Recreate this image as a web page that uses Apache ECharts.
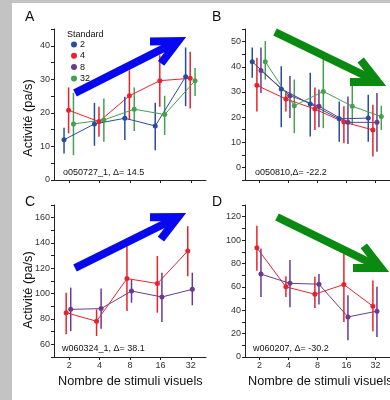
<!DOCTYPE html>
<html><head><meta charset="utf-8">
<script src="https://cdn.jsdelivr.net/npm/echarts@6/dist/echarts.min.js"></script>
<style>
html,body{margin:0;padding:0;background:#c3c3c3;width:390px;height:400px;overflow:hidden;}
#paper{position:absolute;left:12px;top:3px;width:378px;height:397px;background:#fff;}
#chart{position:absolute;left:0;top:0;width:390px;height:400px;}
</style></head><body><div id="paper"></div><div id="chart"></div>
<script>
// ---- data ----
const categories = ['2', '4', '8', '16', '32'];
const legendNames = ['2', '4', '8', '32'];

// Panel A
const aBlue = [12.0, 16.7, 18.4, 16.1, 30.8];
const aBlueLo = [7.9, 10.2, 11.9, 8.9, 22.0];
const aBlueHi = [15.6, 23.0, 24.8, 23.0, 39.5];
const aRed = [20.8, 17.4, 25.1, 29.6, 30.3];
const aRedLo = [13.9, 12.9, 17.9, 21.8, 21.3];
const aRedHi = [27.6, 21.8, 32.7, 37.2, 38.2];
const aGreen = [16.7, 17.9, 21.1, 19.5, 29.6];
const aGreenLo = [7.4, 11.4, 14.6, 13.4, 25.0];
const aGreenHi = [26.0, 24.3, 27.6, 25.1, 33.4];

// Panel B
const bBlue = [42.0, 31.2, 25.2, 19.3, 19.6];
const bBlueLo = [35.6, 16.0, 12.3, 10.2, 10.2];
const bBlueHi = [47.6, 40.2, 37.6, 26.2, 28.9];
const bRed = [32.6, 27.2, 23.2, 18.0, 14.9];
const bRedLo = [22.2, 22.2, 14.9, 9.6, 4.3];
const bRedHi = [43.6, 30.3, 31.8, 24.3, 24.9];
const bPurple = [38.5, 28.5, 24.3, 17.9, 17.9];
const bPurpleLo = [29.6, 19.6, 16.0, 9.3, 6.2];
const bPurpleHi = [47.6, 36.3, 31.0, 28.2, 29.6];
const bGreen = [42.0, 24.5, 30.2, 24.3, 20.2];
const bGreenLo = [34.9, 13.6, 15.6, 16.9, 14.9];
const bGreenHi = [50.2, 34.9, 43.6, 32.5, 24.5];

// Panel C
const cRed = [85.0, 78.2, 111.9, 108.0, 133.7];
const cRedLo = [67.9, 66.6, 86.3, 85.0, 113.7];
const cRedHi = [100.8, 87.6, 137.4, 129.7, 153.2];
const cPurple = [87.6, 88.2, 102.1, 97.4, 103.4];
const cPurpleLo = [70.5, 72.4, 92.9, 77.6, 90.8];
const cPurpleHi = [104.8, 104.0, 111.1, 116.6, 116.6];

// Panel D
const dRed = [93.4, 60.0, 53.7, 62.0, 43.4];
const dRedLo = [73.7, 51.4, 42.0, 30.0, 22.0];
const dRedHi = [112.3, 69.0, 68.6, 88.0, 65.4];
const dPurple = [70.9, 63.0, 62.3, 34.3, 39.2];
const dPurpleLo = [51.4, 42.6, 45.0, 14.3, 17.1];
const dPurpleHi = [92.9, 82.9, 71.0, 52.9, 60.0];

const annotations = ['o050727_1, \u0394= 14.5', 'o050810,\u0394= -22.2', 'w060324_1, \u0394= 38.1', 'w060207, \u0394= -30.2'];
const panelLetters = ['A', 'B', 'C', 'D'];
const yTitle = 'Activité (pa/s)';
const xTitle = 'Nombre de stimuli visuels';
const legendTitle = 'Standard';

// ---- styles ----
const FONT = 'Liberation Sans, Arial, sans-serif';
const COL = { blue: '#2a4c9c', red: '#e8222c', purple: '#6b3a8e', green: '#45a04f' };
const grids = [
  { left: 54, top: 29, width: 152, height: 151 },
  { left: 245, top: 29, width: 152, height: 151 },
  { left: 54, top: 205, width: 152, height: 152 },
  { left: 245, top: 205, width: 152, height: 152 }
];
const yCfg = [
  { min: 0, max: 45, interval: 5, step: 10 },
  { min: -5, max: 55, interval: 5, step: 10 },
  { min: 50, max: 170, interval: 10, step: 20 },
  { min: 0, max: 130, interval: 10, step: 20 }
];

const xAxes = grids.map((g, i) => ({
  type: 'value', gridIndex: i, min: -0.5, max: 4.5,
  axisLine: { show: true, onZero: false, lineStyle: { color: '#222', width: 1 } },
  axisTick: { show: true, customValues: [0, 1, 2, 3, 4], length: 3, lineStyle: { color: '#222' } },
  axisLabel: { show: i >= 2, customValues: [0, 1, 2, 3, 4], formatter: v => categories[Math.round(v)],
    fontSize: 9, color: '#333', margin: 4, fontFamily: FONT },
  splitLine: { show: false }
}));
const yAxes = yCfg.map((c, i) => ({
  type: 'value', gridIndex: i, min: c.min, max: c.max, interval: c.interval,
  axisLine: { show: true, onZero: false, lineStyle: { color: '#222', width: 1 } },
  axisTick: { show: true, length: 3, lineStyle: { color: '#222' } },
  axisLabel: { formatter: v => (Math.round(v) % c.step === 0 ? String(Math.round(v)) : ''),
    fontSize: 9, color: '#333', margin: 4, fontFamily: FONT, showMaxLabel: true },
  splitLine: { show: false }
}));

const series = [];
function addSeries(grid, name, color, vals, lo, hi, offset) {
  series.push({
    type: 'custom', xAxisIndex: grid, yAxisIndex: grid, silent: true, z: 2,
    data: vals.map((v, i) => [i + offset, lo[i], hi[i]]),
    encode: { x: 0, y: [1, 2] },
    renderItem: (params, api) => {
      const x = api.value(0);
      const p1 = api.coord([x, api.value(1)]);
      const p2 = api.coord([x, api.value(2)]);
      return { type: 'line', shape: { x1: p1[0], y1: p1[1], x2: p2[0], y2: p2[1] },
        style: { stroke: color, lineWidth: 1.5 } };
    }
  });
  series.push({
    type: 'line', name: name, xAxisIndex: grid, yAxisIndex: grid, z: 3,
    data: vals.map((v, i) => [i + offset, v]),
    symbol: 'circle', symbolSize: 5, showSymbol: true,
    lineStyle: { width: 1, color: color }, itemStyle: { color: color }
  });
}
addSeries(0, '2', COL.blue, aBlue, aBlueLo, aBlueHi, -0.17);
addSeries(0, '4', COL.red, aRed, aRedLo, aRedHi, -0.02);
addSeries(0, '32', COL.green, aGreen, aGreenLo, aGreenHi, 0.14);
addSeries(1, '2', COL.blue, bBlue, bBlueLo, bBlueHi, -0.25);
addSeries(1, '4', COL.red, bRed, bRedLo, bRedHi, -0.09);
addSeries(1, '8', COL.purple, bPurple, bPurpleLo, bPurpleHi, 0.05);
addSeries(1, '32', COL.green, bGreen, bGreenLo, bGreenHi, 0.2);
addSeries(2, '4', COL.red, cRed, cRedLo, cRedHi, -0.1);
addSeries(2, '8', COL.purple, cPurple, cPurpleLo, cPurpleHi, 0.05);
addSeries(3, '4', COL.red, dRed, dRedLo, dRedHi, -0.09);
addSeries(3, '8', COL.purple, dPurple, dPurpleLo, dPurpleHi, 0.05);

// ---- decorations ----
function arrow(x1, y1, x2, y2, color) {
  const ang = Math.atan2(y1 - y2, x1 - x2);
  const L = 28, h = 26 * Math.PI / 180;
  const w1 = [x2 + L * Math.cos(ang + h), y2 + L * Math.sin(ang + h)];
  const w2 = [x2 + L * Math.cos(ang - h), y2 + L * Math.sin(ang - h)];
  const st = { stroke: color, lineWidth: 8, fill: null, lineCap: 'butt', lineJoin: 'miter' };
  return [
    { type: 'polyline', shape: { points: [[x1, y1], [x2, y2]] }, style: st, z: 10 },
    { type: 'polyline', shape: { points: [w1, [x2, y2], w2] }, style: st, z: 10 }
  ];
}
function txt(x, y, text, size, extra) {
  return { type: 'text', x: x, y: y, z: 11, rotation: (extra && extra.rotation) || 0,
    style: { text: text, fontSize: size, fontFamily: FONT, fill: '#111',
      align: (extra && extra.align) || 'left', verticalAlign: 'middle' } };
}
const graphic = [];
const letterPos = [[25, 17], [212, 17], [25, 202], [212, 202]];
panelLetters.forEach((l, i) => graphic.push(txt(letterPos[i][0], letterPos[i][1], l, 14)));
const annPos = [[63, 173], [255, 173], [62, 349], [253, 349]];
annotations.forEach((a, i) => graphic.push(txt(annPos[i][0], annPos[i][1], a, 9)));
graphic.push(txt(28, 118, yTitle, 12.8, { rotation: Math.PI / 2, align: 'center' }));
graphic.push(txt(28, 290, yTitle, 12.8, { rotation: Math.PI / 2, align: 'center' }));
graphic.push(txt(58, 381, xTitle, 12.7));
graphic.push(txt(248, 381, xTitle, 12.7));
graphic.push(txt(67, 35, legendTitle, 9));
arrow(75, 93, 178, 41, '#0808f0').forEach(g => graphic.push(g));
arrow(275, 32, 378, 82, '#0a8a10').forEach(g => graphic.push(g));
arrow(75, 268, 178, 217, '#0808f0').forEach(g => graphic.push(g));
arrow(277, 217, 381, 268, '#0a8a10').forEach(g => graphic.push(g));

const chart = echarts.init(document.getElementById('chart'), null, { renderer: 'canvas' });
chart.setOption({
  animation: false,
  backgroundColor: 'transparent',
  grid: grids,
  xAxis: xAxes,
  yAxis: yAxes,
  legend: {
    data: legendNames, orient: 'vertical', left: 71, top: 40, z: 20,
    icon: 'circle', itemWidth: 6, itemHeight: 6, itemGap: 2.3,
    selectedMode: false, padding: 0,
    textStyle: { fontSize: 9, fontFamily: FONT, color: '#111', padding: [0, 0, 0, -2] }
  },
  series: series,
  graphic: graphic
});
</script></body></html>
